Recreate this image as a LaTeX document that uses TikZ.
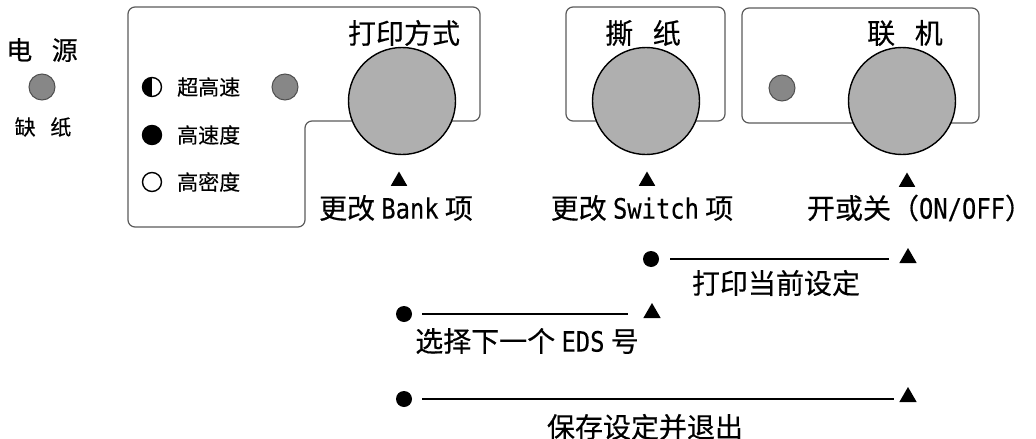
\documentclass[tikz,border=0pt]{standalone}
\usepackage{fontspec}
\usepackage{graphicx}
\setmainfont{Noto Sans CJK SC}[FakeBold=0.35]
\newfontfamily\latmono{DejaVu Sans Mono}[FakeBold=0.2]
\newcommand\lat[1]{{\latmono\scalebox{0.85}[1]{#1}}}
\usetikzlibrary{shapes.geometric}
\definecolor{bigbtn}{RGB}{175,175,175}
\definecolor{ledfill}{RGB}{135,135,135}
\definecolor{ledline}{RGB}{80,80,80}
\definecolor{panelline}{RGB}{90,90,90}
\tikzset{
  panel/.style={draw=panelline,line width=1.2pt,rounded corners=7pt},
  bigbutton/.style={circle,draw=black,line width=1.4pt,fill=bigbtn,minimum size=107pt,inner sep=0pt},
  led/.style={circle,draw=ledline,line width=1pt,fill=ledfill,minimum size=26pt,inner sep=0pt},
  bigtext/.style={font=\fontsize{28}{32}\selectfont,inner sep=0pt},
  midtext/.style={font=\fontsize{21}{24}\selectfont,inner sep=0pt},
  tri/.style={regular polygon,regular polygon sides=3,fill=black,minimum size=19pt,inner sep=0pt},
  rowtri/.style={tri,minimum size=20pt},
  bdot/.style={circle,fill=black,minimum size=16pt,inner sep=0pt},
  modemark/.style={circle,draw=black,line width=1.4pt,minimum size=19pt,inner sep=0pt},
  rowline/.style={line width=2.6pt}
}
\begin{document}
\begin{tikzpicture}[x=1pt,y=-1pt]
\useasboundingbox (0,0) rectangle (1036,439);
% power
\node[bigtext,font=\fontsize{26}{30}\selectfont] (pw) at (42,50) {电\hspace{0.75em}源};
\node[led] (pled) at (42,87) {};
\node[midtext] (qz) at (43,127) {缺\hspace{0.7em}纸};
% left panel
\draw[panel] (300,7) -- (480,7) -- (480,121) -- (305,121) -- (305,227) -- (128,227) -- (128,7) -- cycle;
\node[modemark,path picture={\fill[black] (path picture bounding box.south west) rectangle (path picture bounding box.north);}] (m1) at (152,87) {};
\node[modemark,fill=black] (m2) at (152,135) {};
\node[modemark,fill=white] (m3) at (152,182) {};
\node[midtext,anchor=west] (t1) at (177,87) {超高速};
\node[midtext,anchor=west] (t2) at (177,135) {高速度};
\node[midtext,anchor=west] (t3) at (177,182) {高密度};
\node[led] (led1) at (285,87) {};
\node[bigtext] (l1) at (404,33) {打印方式};
\node[bigbutton] (b1) at (402,101) {};
\node[tri] (a1) at (399,181) {};
\node[bigtext] (c1) at (396,208) {更改 \lat{Bank} 项};
% middle panel
\draw[panel] (566,7) rectangle (725,121);
\node[bigtext] (l2) at (643,33) {撕\hspace{0.7em}纸};
\node[bigbutton] (b2) at (646,101) {};
\node[tri] (a2) at (647,181) {};
\node[bigtext] (c2) at (642,208) {更改 \lat{Switch} 项};
% right panel
\draw[panel] (742,8) rectangle (979,123);
\node[bigtext] (l3) at (905,33) {联\hspace{0.7em}机};
\node[led] (led3) at (782,88) {};
\node[bigbutton] (b3) at (902,101) {};
\node[tri] (a3) at (907,182) {};
\node[bigtext] (c3) at (920,208) {开或关（\lat{ON/OFF}）};
% rows
\node[bdot] (d1) at (651,259) {};
\node[rowtri] (e1) at (908,258) {};
\draw[rowline,shorten <=11pt,shorten >=19pt] (d1) -- (d1 -| e1);
\node[bigtext] (r1) at (776,283) {打印当前设定};
\node[bdot] (d2) at (404,314) {};
\node[rowtri] (e2) at (652,313) {};
\draw[rowline,shorten <=10pt,shorten >=24pt] (d2) -- (d2 -| e2);
\node[bigtext] (r2) at (527,341) {选择下一个 \lat{EDS} 号};
\node[bdot] (d3) at (404,399) {};
\node[rowtri] (e3) at (908,397) {};
\draw[rowline,shorten <=10pt,shorten >=14pt] (d3) -- (d3 -| e3);
\node[bigtext] (r3) at (645,427) {保存设定并退出};
\end{tikzpicture}
\end{document}
